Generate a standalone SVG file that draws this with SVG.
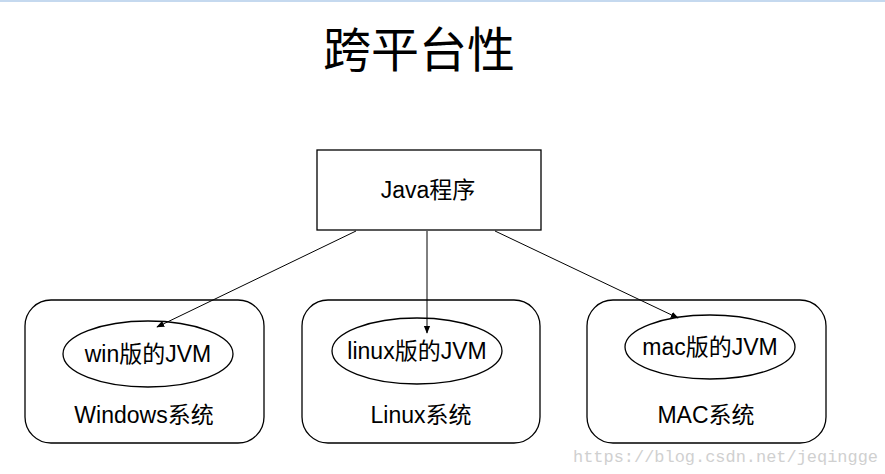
<svg xmlns="http://www.w3.org/2000/svg" width="885" height="474" viewBox="0 0 885 474">
<style>
.t{font-family:"Liberation Sans","Noto Sans CJK SC",sans-serif;fill:#000;text-anchor:middle}
.b{fill:none;stroke:#000;stroke-width:1.3}
.c{stroke:#000;stroke-width:1}
</style>
<defs><marker id="a" viewBox="0 0 10 10" refX="9" refY="5" markerWidth="8" markerHeight="8" orient="auto"><path d="M0,1L10,5L0,9z" fill="#000"/></marker></defs>
<rect width="885" height="474" fill="#fff"/>
<rect width="885" height="2" fill="#c5d9ef"/>
<text class="t" x="419" y="67" font-size="48">跨平台性</text>
<g id="java"><rect class="b" x="317" y="150" width="224" height="80"/><text class="t" x="428" y="198" font-size="23">Java程序</text></g>
<g id="win"><rect class="b" x="25" y="300" width="239" height="143" rx="26"/><ellipse class="b" cx="148" cy="354" rx="85" ry="33"/><text class="t" x="148" y="362" font-size="23">win版的JVM</text><text class="t" x="144" y="423" font-size="23">Windows系统</text></g>
<g id="linux"><rect class="b" x="302" y="300" width="238" height="143" rx="26"/><ellipse class="b" cx="417" cy="351" rx="85" ry="33"/><text class="t" x="417" y="359" font-size="23">linux版的JVM</text><text class="t" x="421" y="423" font-size="23">Linux系统</text></g>
<g id="mac"><rect class="b" x="587" y="300" width="239" height="143" rx="26"/><ellipse class="b" cx="710" cy="347" rx="85" ry="32"/><text class="t" x="710" y="355" font-size="23">mac版的JVM</text><text class="t" x="706" y="423" font-size="23">MAC系统</text></g>
<g id="connectors">
<line class="c" x1="356" y1="231" x2="157" y2="327" marker-end="url(#a)"/>
<line class="c" x1="427" y1="231" x2="427" y2="333" marker-end="url(#a)"/>
<line class="c" x1="495" y1="231" x2="678" y2="318" marker-end="url(#a)"/>
</g>
<text x="573" y="462" font-family="Liberation Mono,monospace" font-size="16" textLength="305" lengthAdjust="spacingAndGlyphs" fill="#d0d0d0">https://blog.csdn.net/jeqingge</text>
</svg>
